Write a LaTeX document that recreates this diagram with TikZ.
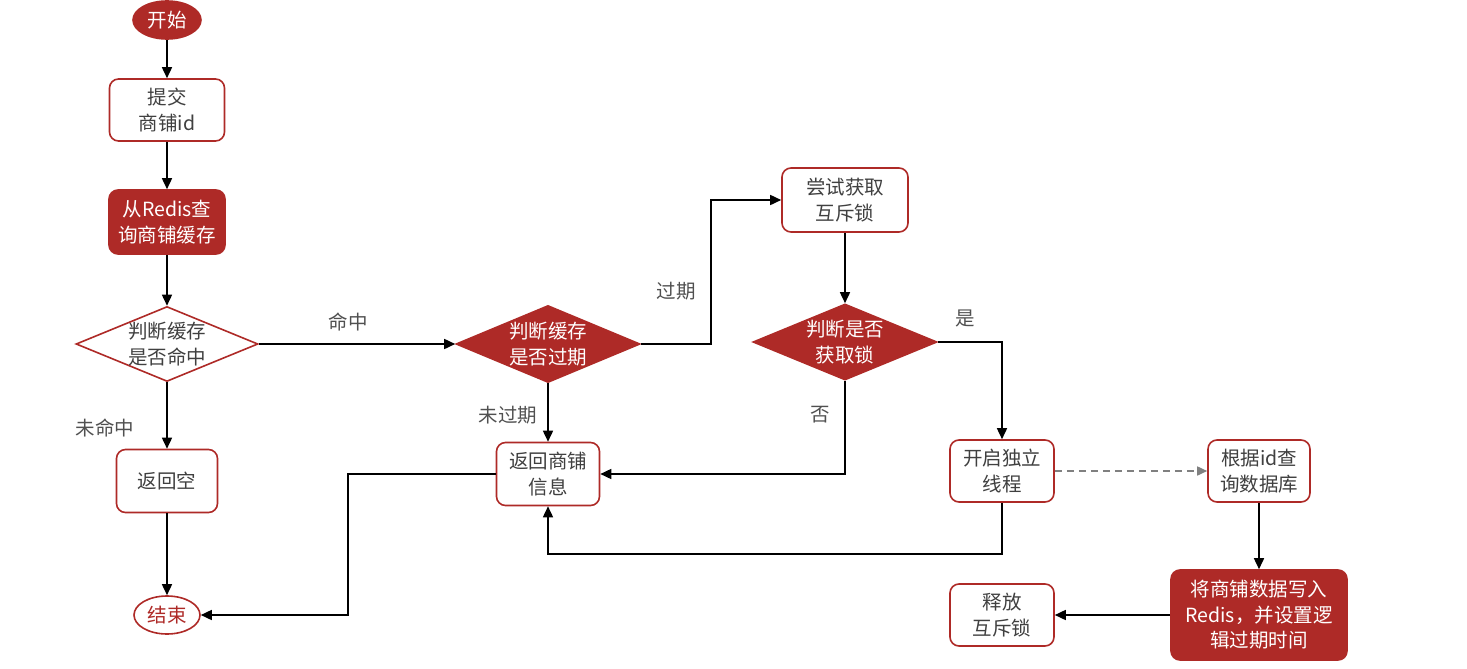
\documentclass[tikz,border=0pt]{standalone}
\usepackage{fontspec}
\setmainfont{Noto Sans CJK SC}
\usetikzlibrary{arrows.meta,shapes.geometric}
\definecolor{rd}{HTML}{AE2A27}
\definecolor{tx}{HTML}{404040}
\definecolor{lb}{HTML}{505050}
\newcommand\myfs{\fontsize{19.5}{25.5}\selectfont}
\begin{document}
\begin{tikzpicture}[x=1pt,y=-1pt,
  box/.style={draw=rd, line width=1.6pt, rounded corners=9pt, fill=white, text=tx, align=center, font=\myfs, inner sep=0pt},
  rbox/.style={box, fill=rd, text=white},
  oval/.style={ellipse, draw=rd, line width=1.6pt, inner sep=0pt, font=\myfs},
  dia/.style={diamond, draw=rd, line width=1.6pt, inner sep=0pt},
  dtxt/.style={align=center, font=\myfs, inner sep=0pt},
  arr/.style={line width=1.6pt, -{Triangle[length=11pt,width=10pt]}},
  darr/.style={line width=1.6pt, draw=gray, dashed, dash pattern=on 7pt off 5pt, -{Triangle[length=10pt,width=9pt]}, color=gray},
  lbl/.style={text=lb, font=\myfs, inner sep=0pt}]
\useasboundingbox (0,0) rectangle (1467,669);
% nodes
\node[oval, fill=rd, text=white, minimum width=68, minimum height=38] (start) at (167,20) {开始};
\node[box, minimum width=115, minimum height=62] (n1) at (167,110) {提交\\商铺id};
\node[rbox, minimum width=116, minimum height=64] (n2) at (167,222) {从Redis查\\询商铺缓存};
\node[dia, fill=white, minimum width=182, minimum height=75] (d1) at (167,344) {};
\node[dtxt, text=tx] (d1t) at (d1) {判断缓存\\是否命中};
\node[dia, fill=rd, minimum width=184, minimum height=77] (d2) at (548,344) {};
\node[dtxt, text=white] (d2t) at (d2) {判断缓存\\是否过期};
\node[box, minimum width=126, minimum height=64] (n3) at (845,200) {尝试获取\\互斥锁};
\node[dia, fill=rd, minimum width=184, minimum height=76] (d3) at (845,342) {};
\node[dtxt, text=white] (d3t) at (d3) {判断是否\\获取锁};
\node[box, minimum width=104, minimum height=62] (n4) at (1002,471) {开启独立\\线程};
\node[box, minimum width=103, minimum height=63] (n5) at (548,474) {返回商铺\\信息};
\node[box, minimum width=101, minimum height=63] (n6) at (167,481) {返回空};
\node[oval, fill=white, text=rd, minimum width=66, minimum height=38] (end) at (167,615) {结束};
\node[box, minimum width=102, minimum height=62] (n7) at (1259,471) {根据id查\\询数据库};
\node[rbox, minimum width=176, minimum height=90] (n8) at (1259,615) {将商铺数据写入\\Redis，并设置逻\\辑过期时间};
\node[box, minimum width=104, minimum height=62] (n9) at (1002,615) {释放\\互斥锁};
% helper coordinates
\coordinate (k1) at (711,0);
\coordinate (k2) at (0,554);
\coordinate (k3) at (348,0);
% connectors
\draw[arr] (start) -- (n1);
\draw[arr] (n1) -- (n2);
\draw[arr] (n2) -- (d1);
\draw[arr] (d1.east) -- (d2.west);
\draw[arr] (d1.south) -- (n6.north);
\draw[arr] (n6) -- (end);
\draw[arr] (d2.east) -- (d2.east -| k1) |- (n3.west);
\draw[arr] (d2.south) -- (n5.north);
\draw[arr] (n3.south) -- (d3.north);
\draw[arr] (d3.east) -| (n4.north);
\draw[arr] (d3.south) |- (n5.east);
\draw[arr] (n4.south) -- (n4.south |- k2) -| (n5.south);
\draw[arr] (n5.west) -- (n5.west -| k3) |- (end.east);
\draw[darr] (n4.east) -- (n7.west);
\draw[arr] (n7.south) -- (n8.north);
\draw[arr] (n8.west) -- (n9.east);
% labels
\node[lbl] (l1) at (348,322) {命中};
\node[lbl] (l2) at (105,428) {未命中};
\node[lbl] (l3) at (676,291) {过期};
\node[lbl] (l4) at (508,415) {未过期};
\node[lbl] (l5) at (965,318) {是};
\node[lbl] (l6) at (820,415) {否};
\end{tikzpicture}
\end{document}
